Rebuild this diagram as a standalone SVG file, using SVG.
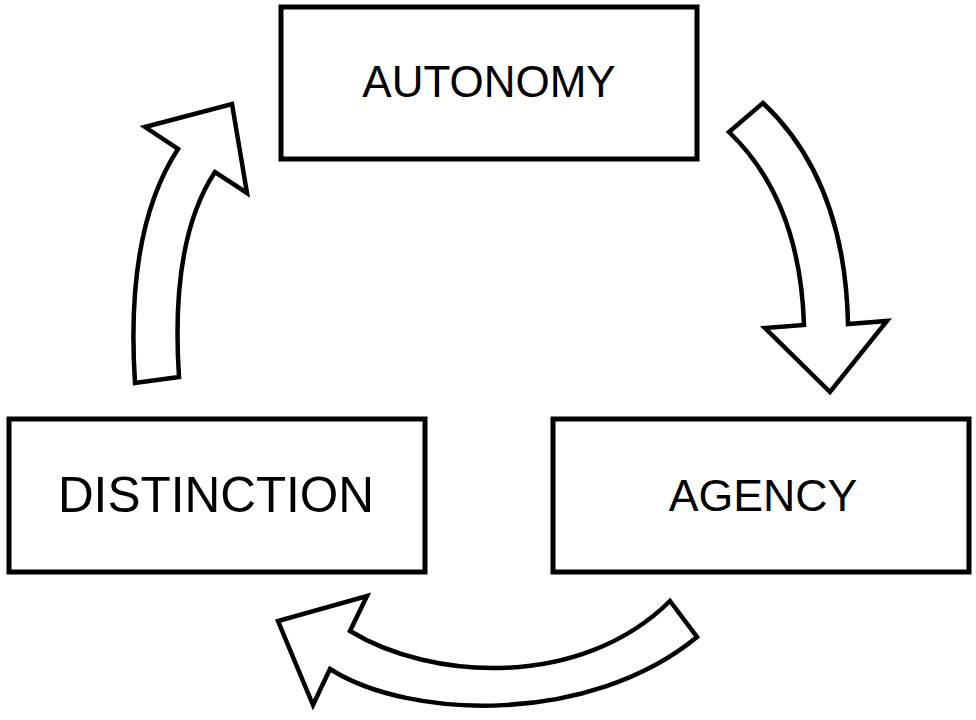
<svg xmlns="http://www.w3.org/2000/svg" width="976" height="720" viewBox="0 0 976 720">
<style>
.box{fill:#fff;stroke:#000;stroke-width:5}
.lbl{font-family:"Liberation Sans",Arial,sans-serif;fill:#000;text-anchor:middle}
.arr{fill:#fff;stroke:#000;stroke-width:4.5;stroke-linejoin:miter}
</style>
<rect width="976" height="720" fill="#fff"/>
<g id="autonomy">
<rect class="box" x="281" y="7" width="416" height="152"/>
<text class="lbl" x="489" y="97" font-size="44">AUTONOMY</text>
</g>
<g id="distinction">
<rect class="box" x="9" y="419" width="416" height="153"/>
<text class="lbl" x="216" y="512" font-size="49.5">DISTINCTION</text>
</g>
<g id="agency">
<rect class="box" x="553" y="419" width="416" height="153"/>
<text class="lbl" x="763" y="511" font-size="44.7">AGENCY</text>
</g>
<g id="connectors">
<path class="arr" d="M135,383 Q125,230 178,149 L145,127 L232,104 L247,193 L215,172 Q170,240 179,377 Z"/>
<path class="arr" d="M729,132 L763,103 Q845,180 848,324 L887,321 L830,392 L765,328 L804,325 Q800,200 729,132 Z"/>
<path class="arr" d="M670,601 L697,637 C590,725 410,720 330,669 L313,705 L278,621 L367,596 L350,631 C430,680 580,690 670,601 Z"/>
</g>
</svg>
